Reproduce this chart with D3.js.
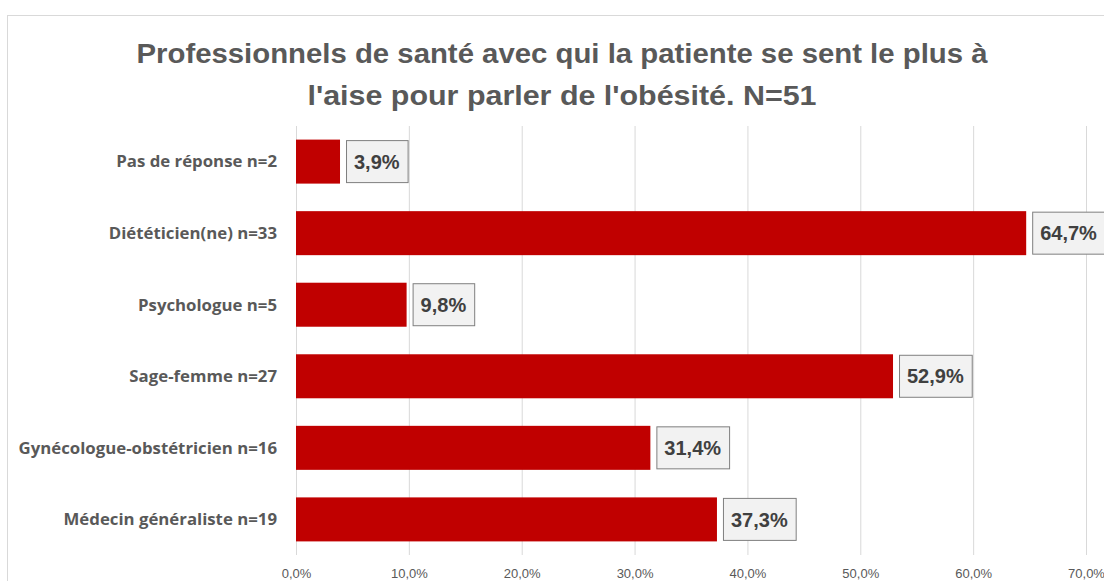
<!DOCTYPE html>
<html><head><meta charset="utf-8">
<script src="https://cdn.jsdelivr.net/npm/d3@7"></script>
<style>body{margin:0;background:#fff}svg{display:block}</style>
</head><body><svg id="c" width="1104" height="581"></svg>
<script>
const categories = ["Pas de réponse n=2","Diététicien(ne) n=33","Psychologue n=5","Sage-femme n=27","Gynécologue-obstétricien n=16","Médecin généraliste n=19"];
const values = [3.9, 64.7, 9.8, 52.9, 31.4, 37.3];
const tickValues = [0,10,20,30,40,50,60,70];
const titleLines = ["Professionnels de santé avec qui la patiente se sent le plus à","l'aise pour parler de l'obésité. N=51"];

const svg = d3.select("#c");
const fmt = v => d3.format(".1f")(v).replace(".", ",") + "%";

svg.append("rect").attr("x",7.5).attr("y",15.5).attr("width",1110).attr("height",600)
  .attr("fill","#fff").attr("stroke","#d9d9d9");

const x = d3.scaleLinear().domain([0,70]).range([296,1086]);
const y = d3.scaleBand().domain(categories).range([126,555]).paddingInner(0.385).paddingOuter(0.19);

const tl = svg.append("g").attr("font-family","'Liberation Sans', Arial, sans-serif")
  .attr("font-weight","bold").attr("fill","#595959").attr("text-anchor","middle");
tl.selectAll("text").data(titleLines).join("text")
  .attr("x",562).attr("y",(d,i)=>63+i*42).attr("font-size",28)
  .attr("textLength",(d,i)=>i===0?851:509).attr("lengthAdjust","spacingAndGlyphs").text(d=>d);

// gridlines
const xAxis = d3.axisBottom(x).tickValues(tickValues).tickSize(-(555-126)).tickFormat(d=>fmt(d));
const ga = svg.append("g").attr("transform","translate(0,555)").call(xAxis);
ga.select(".domain").remove();
ga.selectAll(".tick line").attr("stroke","#d9d9d9");
ga.selectAll(".tick text").attr("fill","#595959").attr("font-size",13)
  .attr("font-family","'Liberation Sans Narrow', 'Liberation Sans', Arial, sans-serif")
  .attr("y",23).attr("dy","0");

// bars
svg.append("g").selectAll("rect").data(values).join("rect")
  .attr("x",x(0)).attr("y",(d,i)=>y(categories[i]))
  .attr("width",d=>x(d)-x(0)).attr("height",y.bandwidth()).attr("fill","#c00000");

// category labels
svg.append("g").selectAll("text").data(categories).join("text")
  .attr("x",277).attr("y",d=>y(d)+y.bandwidth()/2).attr("dy","0.35em")
  .attr("text-anchor","end").attr("font-family","'Open Sans', 'Liberation Sans', sans-serif")
  .attr("font-weight","bold").attr("font-size",16.8).attr("fill","#595959")
  .text(d=>d);

// value labels
const lg = svg.append("g");
values.forEach((v,i)=>{
  const cy = y(categories[i]) + y.bandwidth()/2;
  const g = lg.append("g");
  const t = g.append("text").attr("x",x(v)+6+8).attr("y",cy).attr("dy","0.36em")
    .attr("font-family","'Liberation Sans', Arial, sans-serif").attr("font-weight","bold")
    .attr("font-size",20).attr("fill","#404040").text(fmt(v));
  const w = t.node().getComputedTextLength();
  g.insert("rect","text").attr("x",x(v)+6.5).attr("y",cy-21).attr("width",w+16).attr("height",42)
    .attr("fill","#f2f2f2").attr("stroke","#7f7f7f");
});
</script></body></html>
